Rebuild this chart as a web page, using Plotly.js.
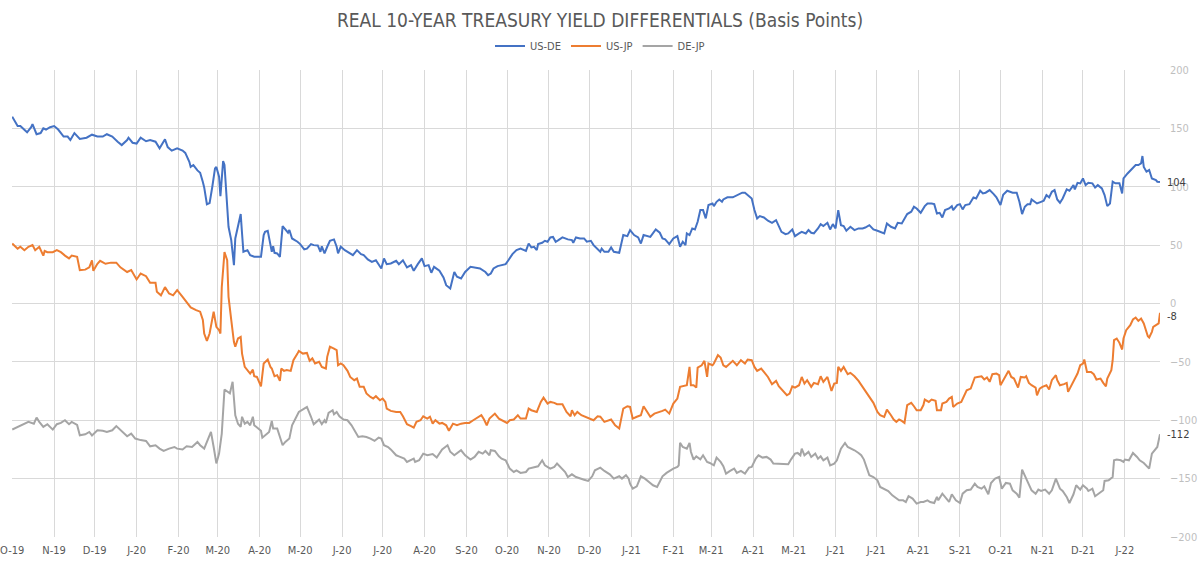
<!DOCTYPE html>
<html>
<head>
<meta charset="utf-8">
<script src="https://cdn.plot.ly/plotly-3.0.1.min.js"></script>
<style>
  html, body { margin: 0; padding: 0; background: #ffffff; }
  #chart { width: 1200px; height: 564px; }
</style>
</head>
<body>
<div id="chart"></div>
<script>
// Real 10-year yield differentials, basis points
const usDeDates = [
  "2019-10-01","2019-10-05","2019-10-07","2019-10-10","2019-10-12","2019-10-15","2019-10-16","2019-10-19","2019-10-22","2019-10-24","2019-10-26","2019-10-29",
  "2019-11-01","2019-11-04","2019-11-08","2019-11-11","2019-11-13","2019-11-16","2019-11-20","2019-11-25","2019-11-29",
  "2019-12-03","2019-12-07","2019-12-10","2019-12-14","2019-12-18","2019-12-21","2019-12-25","2019-12-26","2019-12-29",
  "2020-01-01","2020-01-04","2020-01-08","2020-01-11","2020-01-15","2020-01-18","2020-01-22","2020-01-24","2020-01-27","2020-01-31",
  "2020-02-04","2020-02-06","2020-02-09","2020-02-10","2020-02-12","2020-02-15","2020-02-17","2020-02-19","2020-02-20","2020-02-22","2020-02-24","2020-02-26","2020-02-28","2020-02-29",
  "2020-03-02","2020-03-03","2020-03-05","2020-03-06","2020-03-08","2020-03-09","2020-03-11","2020-03-13","2020-03-14","2020-03-16","2020-03-18","2020-03-19","2020-03-20","2020-03-23","2020-03-25","2020-03-28","2020-03-30",
  "2020-04-02","2020-04-04","2020-04-05","2020-04-07","2020-04-09","2020-04-10","2020-04-11","2020-04-12","2020-04-14","2020-04-16","2020-04-18","2020-04-20","2020-04-22","2020-04-23","2020-04-25","2020-04-29",
  "2020-05-01","2020-05-04","2020-05-06","2020-05-09","2020-05-11","2020-05-14","2020-05-16","2020-05-17","2020-05-19","2020-05-21","2020-05-23","2020-05-26","2020-05-28","2020-05-29","2020-05-31",
  "2020-06-03","2020-06-07","2020-06-09","2020-06-12","2020-06-15","2020-06-17","2020-06-20","2020-06-23","2020-06-26","2020-06-30",
  "2020-07-02","2020-07-04","2020-07-07","2020-07-11","2020-07-13","2020-07-16","2020-07-19","2020-07-22","2020-07-24","2020-07-27","2020-07-30",
  "2020-08-01","2020-08-04","2020-08-06","2020-08-08","2020-08-12","2020-08-15","2020-08-17","2020-08-20","2020-08-23","2020-08-25","2020-08-28","2020-08-31",
  "2020-09-04","2020-09-08","2020-09-11","2020-09-15","2020-09-17","2020-09-19","2020-09-21","2020-09-24","2020-09-27","2020-09-30",
  "2020-10-02","2020-10-05","2020-10-08","2020-10-11","2020-10-15","2020-10-17","2020-10-19","2020-10-21","2020-10-23","2020-10-24","2020-10-27","2020-10-29","2020-10-31",
  "2020-11-02","2020-11-04","2020-11-06","2020-11-08","2020-11-11","2020-11-15","2020-11-18","2020-11-19","2020-11-21","2020-11-24","2020-11-27","2020-11-29",
  "2020-12-02","2020-12-04","2020-12-07","2020-12-09","2020-12-10","2020-12-12","2020-12-15","2020-12-17","2020-12-19","2020-12-23","2020-12-26","2020-12-29","2020-12-31",
  "2021-01-03","2021-01-06","2021-01-08","2021-01-10","2021-01-12","2021-01-15","2021-01-19","2021-01-22","2021-01-24","2021-01-26","2021-01-29",
  "2021-02-01","2021-02-04","2021-02-06","2021-02-08","2021-02-10","2021-02-11","2021-02-13","2021-02-15","2021-02-17","2021-02-19","2021-02-21","2021-02-23","2021-02-25","2021-02-27",
  "2021-03-02","2021-03-03","2021-03-05","2021-03-07","2021-03-09","2021-03-10","2021-03-13","2021-03-17","2021-03-20","2021-03-24","2021-03-26","2021-03-29","2021-03-31",
  "2021-04-02","2021-04-04","2021-04-06","2021-04-09","2021-04-12","2021-04-15","2021-04-18","2021-04-20","2021-04-22","2021-04-25","2021-04-27","2021-04-30",
  "2021-05-02","2021-05-05","2021-05-07","2021-05-10","2021-05-12","2021-05-14","2021-05-16","2021-05-19","2021-05-21","2021-05-23","2021-05-26","2021-05-28","2021-05-30",
  "2021-06-01","2021-06-02","2021-06-03","2021-06-05","2021-06-07","2021-06-09","2021-06-12","2021-06-15","2021-06-18","2021-06-21","2021-06-23","2021-06-26","2021-06-29",
  "2021-07-02","2021-07-04","2021-07-07","2021-07-09","2021-07-12","2021-07-15","2021-07-17","2021-07-20","2021-07-24","2021-07-27","2021-07-29","2021-07-31",
  "2021-08-03","2021-08-06","2021-08-08","2021-08-11","2021-08-13","2021-08-15","2021-08-17","2021-08-19","2021-08-21","2021-08-24","2021-08-26","2021-08-27","2021-08-30",
  "2021-09-01","2021-09-03","2021-09-05","2021-09-08","2021-09-11","2021-09-13","2021-09-16","2021-09-18","2021-09-20","2021-09-23","2021-09-26","2021-09-28",
  "2021-10-01","2021-10-03","2021-10-06","2021-10-10","2021-10-13","2021-10-15","2021-10-17","2021-10-19","2021-10-21","2021-10-23","2021-10-24","2021-10-28","2021-10-31",
  "2021-11-02","2021-11-04","2021-11-06","2021-11-08","2021-11-10","2021-11-12","2021-11-14","2021-11-16","2021-11-19","2021-11-21","2021-11-24","2021-11-25","2021-11-27","2021-11-29",
  "2021-12-01","2021-12-03","2021-12-05","2021-12-08","2021-12-10","2021-12-12","2021-12-15","2021-12-17","2021-12-19","2021-12-21","2021-12-23","2021-12-25","2021-12-28","2021-12-30","2021-12-31",
  "2022-01-03","2022-01-05","2022-01-07","2022-01-09","2022-01-11","2022-01-13","2022-01-14","2022-01-15","2022-01-17","2022-01-19","2022-01-21","2022-01-24","2022-01-25","2022-01-27"
];
const usDeValues = [
  160,152,152,149,146.6,151,153.7,145,146,150,149,151,
  152,149,143,143,140,146,141,142,144.6,
  143,143,145,143,138.6,135.7,140,142,137.7,
  137,142,139,140,138.6,132.9,140.6,134,130.9,133,
  131,129,121.4,117,118.6,114,112,104,99.4,85,86,100,115.7,117,
  108.6,92,122,118.6,77,65.7,54.3,32.9,55.7,65.7,76.6,60,44.3,45.7,41.4,40,40,
  40,58.6,61.4,62.3,48.6,44.3,49,43.4,42.9,40,66.3,62.9,60.6,62.9,55.7,52.9,
  50.9,46.3,47,50.9,50,49.7,44.3,49,42.9,48.6,53.7,54.9,48.6,42.9,48.6,
  45.7,42.3,41.4,45.7,42.3,41.4,37.7,35.7,37,30,
  38.6,33.7,34.3,36.6,33.7,37,30.9,32.9,28,33.7,38.6,
  32,32.9,26.3,31.4,28,22.3,15.7,12.9,27,22.9,21.4,27,
  31.4,30.9,30,27,24.3,25.7,30,32,32.9,33.7,
  37,42.3,45.7,47,45.1,51.4,48,48.6,45.7,50.9,52,53.7,52.9,
  56.6,57,52.9,54.3,56.6,54.9,54.3,52,56.6,55.7,55.7,52.9,
  53.7,50,46.3,44.3,47,44.3,44.3,48,44.3,43.4,58.6,57.7,62.9,
  58.6,56.6,51.4,58.6,57.7,57,63.4,60.6,55.7,54.9,50.9,
  55.7,57.7,48.6,52.9,50,60,58.6,64.3,63.4,70,80,80,72.9,84.3,
  85.7,83.4,87.1,89.1,87.1,89.1,90.9,90.9,92.9,94.9,94.9,92,90,
  80,72.9,74.9,73.7,70.9,69.1,71.4,66.3,61.4,59.4,60,63.4,
  57.7,60,61.4,60,62.9,60.6,60,64.3,68,66.3,69.1,63.4,68,
  64.3,70.9,80,67.1,66.3,62.3,65.7,62.9,64.3,64.3,65.1,67.1,63.4,
  62.3,61.4,60,68.6,65.7,64.3,69.1,68.6,76.6,78.6,82.9,81.4,
  77.7,83.4,85.7,85.7,85.1,77.1,77.7,73.7,80,81.4,83.4,80,84.3,
  85.1,80.6,84.3,85.1,90.9,90,96.6,94.3,94.9,97.1,93.7,90.9,
  84.3,93.1,96.6,94.9,94.9,87.1,76.6,82.9,85.1,85.1,89.1,85.7,87.1,
  88,92.9,90.9,95.7,97.1,89.1,86.3,90,97.7,96.6,101.4,97.7,103.4,102.9,
  107.1,101.4,103.4,102.9,99.4,101.4,98.6,92.9,83.4,85.7,104.3,102.9,102.9,94.3,107.1,
  111.4,113.7,115.7,118.6,118.6,120,126.3,117,112.9,114.3,107.1,105.7,104.3,104
];

const usJpDates = [
  "2019-10-01","2019-10-05","2019-10-07","2019-10-10","2019-10-13","2019-10-16","2019-10-18","2019-10-21","2019-10-24","2019-10-25","2019-10-27","2019-10-31",
  "2019-11-03","2019-11-06","2019-11-09","2019-11-12","2019-11-14","2019-11-18","2019-11-20","2019-11-24","2019-11-27","2019-11-29","2019-11-30",
  "2019-12-03","2019-12-05","2019-12-09","2019-12-13","2019-12-17","2019-12-20","2019-12-25","2019-12-28",
  "2020-01-01","2020-01-04","2020-01-08","2020-01-11","2020-01-15","2020-01-16","2020-01-19","2020-01-22","2020-01-25","2020-01-28","2020-01-31",
  "2020-02-04","2020-02-07","2020-02-10","2020-02-14","2020-02-17","2020-02-19","2020-02-20","2020-02-22","2020-02-24","2020-02-27","2020-02-29",
  "2020-03-02","2020-03-03","2020-03-04","2020-03-06","2020-03-08","2020-03-09","2020-03-11","2020-03-13","2020-03-14","2020-03-16","2020-03-18","2020-03-19","2020-03-21","2020-03-23","2020-03-25","2020-03-27","2020-03-28","2020-03-30",
  "2020-04-02","2020-04-04","2020-04-07","2020-04-09","2020-04-10","2020-04-12","2020-04-14","2020-04-16","2020-04-17","2020-04-19","2020-04-21","2020-04-24","2020-04-26","2020-04-29","2020-04-30",
  "2020-05-03","2020-05-06","2020-05-08","2020-05-10","2020-05-12","2020-05-15","2020-05-17","2020-05-20","2020-05-21","2020-05-23","2020-05-26","2020-05-28","2020-05-29","2020-05-31",
  "2020-06-02","2020-06-05","2020-06-07","2020-06-10","2020-06-12","2020-06-14","2020-06-17","2020-06-19","2020-06-22","2020-06-24","2020-06-26","2020-06-29",
  "2020-07-01","2020-07-03","2020-07-04","2020-07-07","2020-07-11","2020-07-14","2020-07-16","2020-07-19","2020-07-22","2020-07-24","2020-07-26","2020-07-29","2020-07-31",
  "2020-08-03","2020-08-05","2020-08-07","2020-08-09","2020-08-12","2020-08-14","2020-08-17","2020-08-19","2020-08-22","2020-08-25","2020-08-28","2020-08-31",
  "2020-09-03","2020-09-06","2020-09-09","2020-09-12","2020-09-14","2020-09-16","2020-09-18","2020-09-21","2020-09-22","2020-09-25","2020-09-27",
  "2020-10-01","2020-10-03","2020-10-06","2020-10-09","2020-10-11","2020-10-15","2020-10-17","2020-10-19","2020-10-23","2020-10-26","2020-10-28","2020-10-31",
  "2020-11-02","2020-11-05","2020-11-07","2020-11-11","2020-11-14","2020-11-17","2020-11-18","2020-11-20","2020-11-22","2020-11-25","2020-11-28",
  "2020-12-02","2020-12-04","2020-12-07","2020-12-09","2020-12-12","2020-12-14","2020-12-17","2020-12-20","2020-12-23","2020-12-26","2020-12-29","2020-12-31",
  "2021-01-02","2021-01-05","2021-01-08","2021-01-10","2021-01-12","2021-01-15","2021-01-18","2021-01-20","2021-01-24","2021-01-26","2021-01-29",
  "2021-02-01","2021-02-04","2021-02-06","2021-02-09","2021-02-11","2021-02-13","2021-02-14","2021-02-16","2021-02-18","2021-02-19","2021-02-22","2021-02-24","2021-02-26","2021-02-27",
  "2021-03-02","2021-03-03","2021-03-06","2021-03-08","2021-03-10","2021-03-12","2021-03-15","2021-03-17","2021-03-20","2021-03-23","2021-03-26","2021-03-28","2021-03-31",
  "2021-04-02","2021-04-04","2021-04-07","2021-04-09","2021-04-12","2021-04-15","2021-04-18","2021-04-20","2021-04-23","2021-04-26","2021-04-28","2021-04-30",
  "2021-05-02","2021-05-05","2021-05-07","2021-05-09","2021-05-11","2021-05-14","2021-05-16","2021-05-19","2021-05-21","2021-05-23","2021-05-26","2021-05-28","2021-05-29","2021-05-31",
  "2021-06-02","2021-06-03","2021-06-05","2021-06-07","2021-06-10","2021-06-12","2021-06-15","2021-06-18","2021-06-21","2021-06-24","2021-06-27","2021-06-29",
  "2021-07-02","2021-07-04","2021-07-07","2021-07-09","2021-07-12","2021-07-14","2021-07-16","2021-07-18","2021-07-20","2021-07-22","2021-07-24","2021-07-27","2021-07-29","2021-07-31",
  "2021-08-03","2021-08-05","2021-08-06","2021-08-09","2021-08-11","2021-08-14","2021-08-15","2021-08-18","2021-08-19","2021-08-22","2021-08-24","2021-08-26","2021-08-27","2021-08-30",
  "2021-09-02","2021-09-04","2021-09-06","2021-09-09","2021-09-12","2021-09-14","2021-09-17","2021-09-19","2021-09-21","2021-09-23","2021-09-25","2021-09-28","2021-09-30",
  "2021-10-01","2021-10-04","2021-10-07","2021-10-09","2021-10-11","2021-10-14","2021-10-16","2021-10-19","2021-10-20","2021-10-22","2021-10-24","2021-10-27","2021-10-28","2021-10-30",
  "2021-11-01","2021-11-04","2021-11-06","2021-11-08","2021-11-11","2021-11-12","2021-11-14","2021-11-17","2021-11-19","2021-11-20","2021-11-23","2021-11-25","2021-11-27","2021-11-29",
  "2021-12-01","2021-12-02","2021-12-04","2021-12-07","2021-12-09","2021-12-11","2021-12-14","2021-12-16","2021-12-18","2021-12-19","2021-12-22","2021-12-23","2021-12-24","2021-12-26","2021-12-28","2021-12-30","2021-12-31",
  "2022-01-02","2022-01-05","2022-01-07","2022-01-09","2022-01-11","2022-01-13","2022-01-15","2022-01-16","2022-01-18","2022-01-19","2022-01-21","2022-01-22","2022-01-25","2022-01-26","2022-01-27"
];
const usJpValues = [
  51.4,47,48.6,45.7,48.6,50,45.7,48.6,41,45,44,44,
  45.7,44,41,38.6,41,40,28.6,29,31,37,28,
  34,36.6,34,35,35,31,27,28.6,
  20.6,25.7,23.4,17.7,17.7,10,7,14,8.6,7,11.4,
  5.7,0.6,-3.4,-5.7,-7,-14,-25.7,-32,-25.7,-7,-20,
  -22.9,-25.7,14,44,37,5.7,-14,-33,-37,-30,-28.6,-42.9,-54.3,-57,-60,-56.6,-62.3,-62.9,
  -70.9,-51.4,-48,-54.3,-55.7,-62.3,-61.4,-66.3,-55.7,-57.7,-57,-57.7,-48.6,-42.9,-40.6,
  -42.9,-42.3,-49,-47,-51.4,-50,-54.3,-55.7,-45.7,-37,-38.6,-40,-52.9,-51.4,
  -52.9,-57.7,-62.9,-65.7,-64.3,-71.4,-71.4,-77,-80,-81.4,-79.4,-82.9,
  -81.4,-84.3,-90,-92,-92.9,-92.9,-96.6,-103.4,-105,-106.3,-101.4,-100,-96.6,
  -98.6,-97,-102.9,-100,-102.9,-102.3,-104.3,-109,-102.9,-104.3,-102.9,-102.3,
  -102.3,-100,-97.7,-95.7,-99.4,-104.3,-98.6,-95.7,-94.3,-98.6,-100,
  -102.3,-100,-99.4,-95.7,-98.6,-98.6,-90,-91.4,-92.9,-84.3,-80.6,-85.7,
  -84.3,-85.1,-86.3,-86.3,-92.9,-96.6,-91.4,-95.7,-92.9,-95.7,-97,
  -98.6,-100,-96.6,-97,-101.4,-100.6,-99.4,-104.3,-107,-90,-88,-88.6,
  -98.6,-97,-95.7,-88,-91.4,-97,-94.3,-93.7,-92,-90.9,-94.3,
  -85.7,-81.4,-71.4,-70.9,-70,-54.3,-70,-70,-72,-55,-52.9,-49.1,-62.9,-51.4,
  -52.9,-51.4,-44.3,-46.3,-52.9,-54.3,-51.4,-49.1,-52.9,-48.6,-51.4,-48,-48.6,
  -54.3,-57.7,-55.7,-58.6,-62.9,-69.1,-66.3,-70.9,-74.9,-78.6,-77.1,-70.9,
  -72,-70,-62.9,-68.6,-65.7,-71.4,-68,-69.1,-62.3,-67.1,-62.9,-70.9,-74.9,-68.6,
  -68,-54.3,-57.7,-54.3,-60.6,-59.4,-62.3,-66.3,-71.4,-77.1,-81.4,-85.1,
  -92.9,-95.7,-97.1,-90.9,-95.7,-99.4,-101.4,-99.4,-100.6,-102.3,-87.1,-85.1,-88,-91.4,
  -91.4,-87,-82.3,-84.3,-82.3,-83.4,-91.4,-91.4,-85.7,-84.3,-81.4,-80,-88.6,-85.7,
  -84.3,-78.6,-74.3,-72.9,-63.4,-62.9,-62.3,-65.1,-63.4,-67.1,-60.6,-60,-61.4,
  -70,-64.3,-57.7,-62.9,-64.3,-72,-62.9,-63.4,-62.3,-68,-70,-72,-78.6,-72.9,
  -71.4,-70,-73.7,-65.7,-61.4,-65.7,-70,-69.1,-68,-75.7,-68.6,-63.4,-60,-52.9,
  -51.4,-48,-58.6,-58.6,-60.6,-65.1,-64.3,-68,-70.9,-64.3,-57.1,-48.6,-31.4,-30,-33.7,-39.4,-30,
  -22.9,-18.6,-13.7,-12,-14.9,-12.9,-17.1,-21.4,-28,-29.1,-24.3,-20,-17.7,-17.1,-8
];

const deJpDates = [
  "2019-10-01","2019-10-05","2019-10-08","2019-10-10","2019-10-13","2019-10-17","2019-10-19","2019-10-21","2019-10-24","2019-10-27","2019-10-31",
  "2019-11-03","2019-11-06","2019-11-09","2019-11-12","2019-11-14","2019-11-18","2019-11-20","2019-11-24","2019-11-27","2019-11-29",
  "2019-12-03","2019-12-07","2019-12-10","2019-12-14","2019-12-17","2019-12-20","2019-12-25","2019-12-28","2019-12-31",
  "2020-01-04","2020-01-08","2020-01-11","2020-01-15","2020-01-18","2020-01-21","2020-01-25","2020-01-29","2020-01-31",
  "2020-02-04","2020-02-07","2020-02-11","2020-02-15","2020-02-17","2020-02-20","2020-02-22","2020-02-25","2020-02-27","2020-02-29",
  "2020-03-02","2020-03-04","2020-03-06","2020-03-08","2020-03-10","2020-03-12","2020-03-14","2020-03-16","2020-03-18","2020-03-19","2020-03-21","2020-03-23","2020-03-25","2020-03-27","2020-03-28","2020-03-31",
  "2020-04-02","2020-04-03","2020-04-05","2020-04-08","2020-04-10","2020-04-11","2020-04-14","2020-04-16","2020-04-18","2020-04-20","2020-04-23","2020-04-25","2020-04-28","2020-04-30",
  "2020-05-04","2020-05-06","2020-05-09","2020-05-11","2020-05-13","2020-05-15","2020-05-17","2020-05-19","2020-05-20","2020-05-22","2020-05-25","2020-05-26","2020-05-28","2020-05-30",
  "2020-06-02","2020-06-05","2020-06-08","2020-06-10","2020-06-13","2020-06-16","2020-06-19","2020-06-22","2020-06-25","2020-06-28","2020-06-30",
  "2020-07-02","2020-07-05","2020-07-07","2020-07-11","2020-07-13","2020-07-17","2020-07-19","2020-07-22","2020-07-24","2020-07-25","2020-07-28","2020-07-31",
  "2020-08-03","2020-08-07","2020-08-10","2020-08-14","2020-08-18","2020-08-20","2020-08-23","2020-08-28","2020-08-31",
  "2020-09-04","2020-09-07","2020-09-10","2020-09-13","2020-09-15","2020-09-18","2020-09-19","2020-09-22","2020-09-25","2020-09-27","2020-09-30",
  "2020-10-03","2020-10-06","2020-10-08","2020-10-11","2020-10-15","2020-10-17","2020-10-20","2020-10-24","2020-10-27","2020-10-29",
  "2020-11-02","2020-11-05","2020-11-07","2020-11-10","2020-11-13","2020-11-15","2020-11-18","2020-11-21","2020-11-24","2020-11-27","2020-11-30",
  "2020-12-03","2020-12-05","2020-12-09","2020-12-12","2020-12-16","2020-12-19","2020-12-23","2020-12-25","2020-12-28","2020-12-30","2020-12-31",
  "2021-01-02","2021-01-05","2021-01-08","2021-01-11","2021-01-14","2021-01-17","2021-01-20","2021-01-24","2021-01-27",
  "2021-02-01","2021-02-04","2021-02-05","2021-02-06","2021-02-08","2021-02-11","2021-02-13","2021-02-14","2021-02-16","2021-02-18","2021-02-21","2021-02-23","2021-02-26","2021-02-28",
  "2021-03-03","2021-03-05","2021-03-08","2021-03-10","2021-03-12","2021-03-15","2021-03-18","2021-03-20","2021-03-23","2021-03-26","2021-03-29","2021-03-31",
  "2021-04-03","2021-04-05","2021-04-08","2021-04-11","2021-04-14","2021-04-16","2021-04-20","2021-04-24","2021-04-27","2021-04-29",
  "2021-05-02","2021-05-04","2021-05-06","2021-05-07","2021-05-09","2021-05-12","2021-05-14","2021-05-17","2021-05-19","2021-05-21","2021-05-23","2021-05-26","2021-05-28","2021-05-31",
  "2021-06-02","2021-06-05","2021-06-08","2021-06-10","2021-06-13","2021-06-15","2021-06-18","2021-06-20","2021-06-22","2021-06-24","2021-06-26","2021-06-29",
  "2021-07-02","2021-07-04","2021-07-07","2021-07-10","2021-07-13","2021-07-15","2021-07-18","2021-07-21","2021-07-23","2021-07-25","2021-07-28","2021-07-31",
  "2021-08-03","2021-08-05","2021-08-08","2021-08-10","2021-08-13","2021-08-15","2021-08-16","2021-08-19","2021-08-22","2021-08-24","2021-08-26","2021-08-29",
  "2021-09-01","2021-09-03","2021-09-06","2021-09-09","2021-09-12","2021-09-14","2021-09-17","2021-09-19","2021-09-22","2021-09-24","2021-09-27","2021-09-30",
  "2021-10-02","2021-10-05","2021-10-08","2021-10-10","2021-10-13","2021-10-15","2021-10-17","2021-10-19","2021-10-21","2021-10-23","2021-10-24","2021-10-27","2021-10-29","2021-10-31",
  "2021-11-03","2021-11-06","2021-11-08","2021-11-11","2021-11-14","2021-11-16","2021-11-19","2021-11-21","2021-11-24","2021-11-26","2021-11-29",
  "2021-12-01","2021-12-04","2021-12-05","2021-12-08","2021-12-10","2021-12-13","2021-12-16","2021-12-17","2021-12-20","2021-12-23","2021-12-24","2021-12-26","2021-12-29","2021-12-31",
  "2022-01-01","2022-01-04","2022-01-07","2022-01-10","2022-01-12","2022-01-15","2022-01-17","2022-01-19","2022-01-21","2022-01-24","2022-01-25","2022-01-27"
];
const deJpValues = [
  -108,-106,-104,-103,-101.4,-103,-97.7,-101.4,-105.7,-103.4,-108,
  -103.4,-102.3,-100,-103.4,-101.4,-104,-112.9,-112,-110,-113,
  -108.6,-109,-110,-108.6,-105,-108.6,-113.7,-111.4,-115.7,
  -117,-117.7,-122.3,-121.4,-124.3,-126.3,-124.3,-122.9,-124.3,
  -125,-122.3,-122.9,-118.6,-121.4,-124.3,-118.6,-110,-122.9,-137,
  -128.6,-111.4,-73.7,-75.7,-77,-67,-95.7,-103,-105.7,-97,-102.9,-101.4,-104.3,-97,-104.3,-107,
  -109,-114.9,-112.9,-110,-100.6,-107,-107,-114.3,-121.4,-118.6,-115.7,-104.3,-97,-92.9,
  -90,-88.6,-97,-103.4,-101.4,-99.4,-103.4,-100,-102.3,-93.7,-91.4,-94.9,-92.9,-96.6,
  -99.4,-100,-104.3,-108.6,-114.3,-113.7,-114.3,-115.7,-117.7,-114.9,-115.7,
  -121.4,-122.9,-125,-130,-130.9,-132.9,-135.7,-134.3,-132.9,-135.7,-134.3,-128.6,
  -130,-129,-132,-125,-121.4,-127,-130,-125.7,-130,
  -133.7,-131.4,-127,-128.6,-126.3,-130,-125.7,-126.3,-130.9,-132.9,-134.3,
  -141.4,-144.3,-142.9,-145.1,-144.3,-141.4,-140.6,-139.4,-134.3,-138.6,
  -141.4,-140,-137,-140.6,-144.3,-148.6,-146.3,-148.6,-150,-150.9,-152,
  -148,-142.9,-140.6,-143.4,-146.3,-150,-148,-150,-147,-150,-154.3,
  -158.6,-156.6,-148,-150,-152.9,-155.7,-157.1,-148,-145.1,
  -141.4,-140,-138.6,-119.4,-122.9,-124.3,-119.4,-127,-133.7,-130.9,-133.5,-130,-135.7,-136.6,
  -138.6,-132,-135.7,-139.4,-145.7,-143.4,-141.4,-145.1,-143.4,-145.7,-140.6,-140,
  -132.9,-130,-132,-131.4,-133.7,-137.1,-137.1,-137.7,-137.7,-133.7,
  -128.6,-128,-130,-124.3,-130,-127.1,-131.4,-128.6,-132.9,-130.9,-134.3,-132,-138.6,-137.1,
  -134.3,-124.3,-119.4,-122.9,-124.3,-125.7,-128,-130,-133.7,-140,-147.1,-148.6,
  -151.4,-157.1,-158.6,-160.6,-164.3,-166.3,-168.6,-168.6,-170,-165.1,-167.1,-171.4,
  -170,-170,-168.6,-170,-170.9,-165.7,-168.6,-162.9,-167.1,-170,-163.4,-168.6,
  -170.9,-162.9,-160,-159.4,-154.3,-157.1,-158.6,-156.6,-163.4,-153.7,-150,-148.6,
  -158.6,-153.7,-154.3,-160,-162.9,-166.3,-142.3,-147.1,-151.4,-156.6,-160,-162.9,-159.4,-160.6,
  -159.4,-162.9,-160,-150,-158.6,-160.6,-165.7,-170.9,-163.4,-155.7,-159.4,
  -155.7,-158.6,-160.6,-158.6,-165.1,-162.9,-160,-152,-151.4,-148.6,-134.3,-133.7,-134.3,-135.7,
  -133.7,-134.3,-128,-131.4,-134.3,-136.6,-138.6,-141.4,-128.6,-124.3,-122.9,-112
];

// Month gridlines and their short labels
const monthTicks = [
  "2019-10-01","2019-11-01","2019-12-01","2020-01-01","2020-02-01","2020-03-01","2020-04-01","2020-05-01","2020-06-01","2020-07-01",
  "2020-08-01","2020-09-01","2020-10-01","2020-11-01","2020-12-01","2021-01-01","2021-02-01","2021-03-01","2021-04-01","2021-05-01",
  "2021-06-01","2021-07-01","2021-08-01","2021-09-01","2021-10-01","2021-11-01","2021-12-01","2022-01-01"
];
const monthLabels = [
  "O-19","N-19","D-19","J-20","F-20","M-20","A-20","M-20","J-20","J-20",
  "A-20","S-20","O-20","N-20","D-20","J-21","F-21","M-21","A-21","M-21",
  "J-21","J-21","A-21","S-21","O-21","N-21","D-21","J-22"
];

const seriesNames = ["US-DE", "US-JP", "DE-JP"];
const seriesColors = ["#4472C4", "#ED7D31", "#A5A5A5"];
// small vertical nudges for the end-of-line value labels
const endLabelShift = [0, -4, 0];

const FONT = '"Liberation Sans Narrow", "DejaVu Sans Condensed", Roboto, sans-serif';

const allDates = [usDeDates, usJpDates, deJpDates];
const allValues = [usDeValues, usJpValues, deJpValues];

const traces = seriesNames.map((name, i) => ({
  type: "scatter",
  mode: "lines",
  name: name,
  x: allDates[i],
  y: allValues[i],
  line: { color: seriesColors[i], width: 2 },
  hoverinfo: "skip"
}));

// Last-value labels at the right end of each line
const endLabels = seriesNames.map((name, i) => {
  const xs = allDates[i], ys = allValues[i];
  const v = ys[ys.length - 1];
  return {
    x: xs[xs.length - 1], y: v, xref: "x", yref: "y",
    text: String(Math.round(v)),
    showarrow: false, xanchor: "left", yanchor: "middle",
    xshift: 5, yshift: endLabelShift[i],
    font: { family: FONT, size: 11, color: "#404040" }
  };
});

const layout = {
  width: 1200, height: 564,
  margin: { l: 12, r: 40, t: 70, b: 27 },
  paper_bgcolor: "#ffffff", plot_bgcolor: "#ffffff",
  font: { family: FONT, color: "#595959" },
  title: {
    text: "REAL 10-YEAR TREASURY YIELD DIFFERENTIALS (Basis Points)",
    font: { family: FONT, size: 19, color: "#595959" },
    x: 0.5, xanchor: "center", xref: "container",
    y: 1 - 20 / 564, yref: "container", yanchor: "middle"
  },
  showlegend: true,
  legend: {
    orientation: "h", x: 0.5, xanchor: "center", xref: "container",
    y: 1 - 46 / 564, yref: "container", yanchor: "middle",
    font: { family: FONT, size: 11, color: "#595959" },
    itemwidth: 30, bgcolor: "rgba(0,0,0,0)"
  },
  xaxis: {
    type: "date",
    range: ["2019-09-30 20:00", "2022-01-27"],
    tickmode: "array", tickvals: monthTicks, ticktext: monthLabels,
    showgrid: true, gridcolor: "#d9d9d9", gridwidth: 1,
    zeroline: false, showline: false, ticks: "",
    tickfont: { family: FONT, size: 11, color: "#595959" },
    ticklabelstandoff: 5,
    ticklabeloverflow: "allow",
    fixedrange: true
  },
  yaxis: {
    side: "right",
    range: [-200, 200], tick0: 0, dtick: 50,
    showgrid: true, gridcolor: "#d9d9d9", gridwidth: 1,
    zeroline: false, showline: false, ticks: "",
    tickfont: { family: FONT, size: 11, color: "#bfbfbf" },
    ticklabelstandoff: 9,
    fixedrange: true
  },
  annotations: endLabels
};

Plotly.newPlot("chart", traces, layout, { staticPlot: true, displayModeBar: false });
</script>
</body>
</html>
